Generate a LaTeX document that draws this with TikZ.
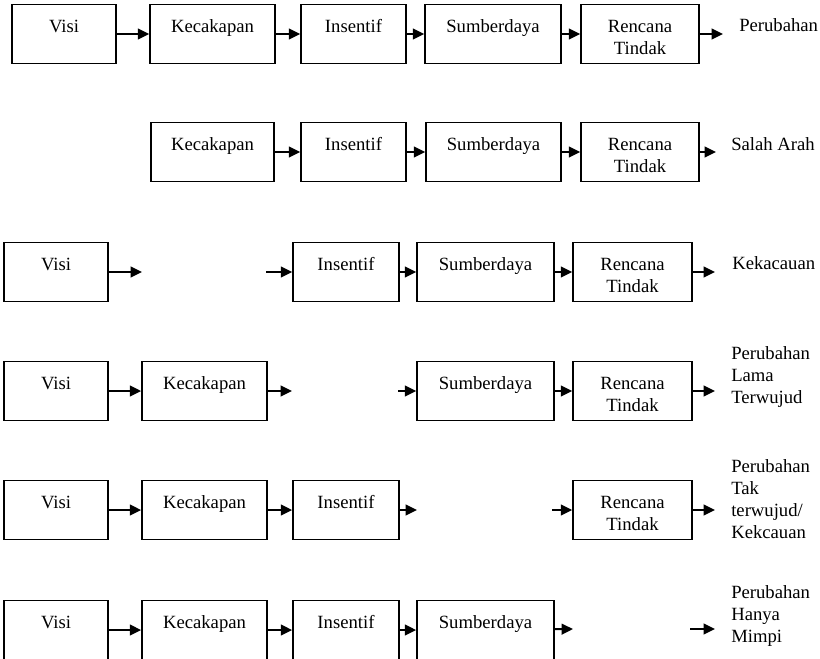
\documentclass[tikz,border=0pt]{standalone}
\usepackage{fontspec}
\setmainfont{Liberation Serif}
\usetikzlibrary{arrows.meta}
\begin{document}
\begin{tikzpicture}[x=0.75pt,y=-0.75pt,
  every node/.style={font=\fontsize{14}{16.5}\selectfont},
  box/.style={draw, line width=1.3pt, minimum height=44.25pt, inner sep=0pt},
  bw/.style={minimum width=#1*0.75pt},
  txt/.style={label={[anchor=north, yshift=-9.8pt, inner sep=0pt, align=center]north:\strut #1}},
  outc/.style={anchor=north west, inner sep=0pt, align=left},
  arr/.style={line width=1.5pt, -{Triangle[length=8.5pt,width=8pt]}}]
\useasboundingbox (0,0) rectangle (820,658);
\clip (0,0) rectangle (820,658);
% ---------- Row 1
\node[box,bw=104,txt={Visi}]            (a1) at (64,34) {};
\node[box,bw=125,txt={Kecakapan}]       (b1) at (212.5,34) {};
\node[box,bw=105,txt={Insentif}]        (c1) at (353.5,34) {};
\node[box,bw=136,txt={Sumberdaya}]      (d1) at (493,34) {};
\node[box,bw=118,txt={Rencana\\Tindak}] (e1) at (640,34) {};
\coordinate (z1) at (723,34);
\node[outc] (o1) at (739,15.6) {\strut Perubahan};
\draw[arr] (a1) -- (b1);
\draw[arr] (b1) -- (c1);
\draw[arr] (c1) -- (d1);
\draw[arr] (d1) -- (e1);
\draw[arr] (e1) -- (z1);
% ---------- Row 2
\node[box,bw=123,txt={Kecakapan}]       (b2) at (212.5,152) {};
\node[box,bw=105,txt={Insentif}]        (c2) at (353.5,152) {};
\node[box,bw=135,txt={Sumberdaya}]      (d2) at (493.5,152) {};
\node[box,bw=118,txt={Rencana\\Tindak}] (e2) at (640,152) {};
\coordinate (z2) at (716,152);
\node[outc] (o2) at (731,134.6) {\strut Salah Arah};
\draw[arr] (b2) -- (c2);
\draw[arr] (c2) -- (d2);
\draw[arr] (d2) -- (e2);
\draw[arr] (e2) -- (z2);
% ---------- Row 3
\node[box,bw=104,txt={Visi}]            (a3) at (56,272) {};
\node[box,bw=106,txt={Insentif}]        (c3) at (346,272) {};
\node[box,bw=137,txt={Sumberdaya}]      (d3) at (485.5,272) {};
\node[box,bw=119,txt={Rencana\\Tindak}] (e3) at (632.5,272) {};
\coordinate (p3) at (142,272);
\coordinate (q3) at (266,272);
\coordinate (z3) at (715,272);
\node[outc] (o3) at (732,253.6) {\strut Kekacauan};
\draw[arr] (a3) -- (p3);
\draw[arr] (q3) -- (c3);
\draw[arr] (c3) -- (d3);
\draw[arr] (d3) -- (e3);
\draw[arr] (e3) -- (z3);
% ---------- Row 4
\node[box,bw=104,txt={Visi}]            (a4) at (56,391) {};
\node[box,bw=125,txt={Kecakapan}]       (b4) at (204.5,391) {};
\node[box,bw=137,txt={Sumberdaya}]      (d4) at (485.5,391) {};
\node[box,bw=119,txt={Rencana\\Tindak}] (e4) at (632.5,391) {};
\coordinate (p4) at (292,391);
\coordinate (q4) at (398,391);
\coordinate (z4) at (715,391);
\node[outc] (o4) at (731,343.6) {\strut Perubahan\\Lama\\Terwujud};
\draw[arr] (a4) -- (b4);
\draw[arr] (b4) -- (p4);
\draw[arr] (q4) -- (d4);
\draw[arr] (d4) -- (e4);
\draw[arr] (e4) -- (z4);
% ---------- Row 5
\node[box,bw=104,txt={Visi}]            (a5) at (56,510) {};
\node[box,bw=125,txt={Kecakapan}]       (b5) at (204.5,510) {};
\node[box,bw=106,txt={Insentif}]        (c5) at (346,510) {};
\node[box,bw=119,txt={Rencana\\Tindak}] (e5) at (632.5,510) {};
\coordinate (p5) at (417,510);
\coordinate (q5) at (552,510);
\coordinate (z5) at (715,510);
\node[outc] (o5) at (731,456.6) {\strut Perubahan\\Tak\\terwujud/\\Kekcauan};
\draw[arr] (a5) -- (b5);
\draw[arr] (b5) -- (c5);
\draw[arr] (c5) -- (p5);
\draw[arr] (q5) -- (e5);
\draw[arr] (e5) -- (z5);
% ---------- Row 6
\node[box,bw=104,txt={Visi}]            (a6) at (56,630) {};
\node[box,bw=125,txt={Kecakapan}]       (b6) at (204.5,630) {};
\node[box,bw=106,txt={Insentif}]        (c6) at (346,630) {};
\node[box,bw=137,txt={Sumberdaya}]      (d6) at (485.5,630) {};
\coordinate (p6) at (573,629);
\coordinate (q6) at (690,629);
\coordinate (z6) at (715,629);
\node[outc] (o6) at (731,582.6) {\strut Perubahan\\Hanya\\Mimpi};
\draw[arr] (a6) -- (b6);
\draw[arr] (b6) -- (c6);
\draw[arr] (c6) -- (d6);
\draw[arr] (d6) -- (p6);
\draw[arr] (q6) -- (z6);
\end{tikzpicture}
\end{document}
